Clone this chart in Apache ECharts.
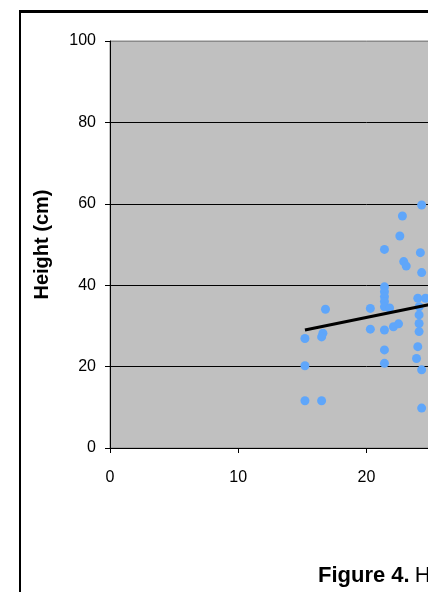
<!DOCTYPE html>
<html>
<head>
<meta charset="utf-8">
<script src="https://cdn.jsdelivr.net/npm/echarts@6/dist/echarts.min.js"></script>
<style>
html,body{margin:0;padding:0;background:#fff;overflow:hidden;}
#clip{position:absolute;left:0;top:0;width:428px;height:592px;overflow:hidden;background:#fff;}
#chart{position:absolute;left:0;top:0;width:800px;height:700px;}
#frame{position:absolute;left:19px;top:10px;width:1000px;height:1000px;border-left:2px solid #000;border-top:3px solid #000;pointer-events:none;}
</style>
</head>
<body>
<div id="clip">
  <div id="chart"></div>
  <div id="frame"></div>
</div>
<script>
// Observed values (x, height cm)
const xValues = [15.2, 15.2, 15.2, 16.5, 16.6, 16.5, 16.8, 20.3, 20.3, 21.4, 21.4, 21.4, 21.4, 21.4, 21.4, 21.8, 21.4, 22.1, 22.5, 21.4, 21.4, 22.6, 22.8, 22.9, 23.1, 24.3, 24.2, 24.3, 24.0, 24.6, 24.1, 24.1, 24.1, 24.1, 24.0, 23.9, 24.3, 24.3];
const heights = [26.9, 20.2, 11.6, 11.6, 28.2, 27.3, 34.1, 34.3, 29.2, 48.8, 39.6, 38.4, 37.2, 36.0, 34.7, 34.4, 29.0, 29.8, 30.5, 24.1, 20.8, 52.1, 57.0, 45.8, 44.7, 59.7, 48.0, 43.1, 36.8, 36.8, 34.7, 32.7, 30.6, 28.6, 24.9, 22.0, 19.2, 9.8];
// Linear trend line endpoints
const trendX = [15.2, 30];
const trendY = [29.0, 38.5];
const yTicks = [0, 20, 40, 60, 80, 100];
const xTicks = [0, 10, 20, 30, 40];
const yTitle = 'Height (cm)';
const figTitleBold = 'Figure 4.';
const figTitleRest = 'Height';

const points = xValues.map((x, i) => [x, heights[i]]);
const trend = trendX.map((x, i) => [x, trendY[i]]);

const chart = echarts.init(document.getElementById('chart'), null, {renderer: 'canvas'});
const font = '"Liberation Sans", Arial, sans-serif';
chart.setOption({
  animation: false,
  backgroundColor: 'transparent',
  title: {
    text: '{b|' + figTitleBold + '} {n|' + figTitleRest + '}',
    left: 313, top: 560,
    textStyle: {
      rich: {
        b: {fontFamily: font, fontSize: 22, fontWeight: 'bold', color: '#000'},
        n: {fontFamily: font, fontSize: 22, fontWeight: 'normal', color: '#000'}
      }
    }
  },
  grid: {left: 110, top: 41, width: 513, height: 407, show: true, backgroundColor: '#C0C0C0', borderColor: '#8a8a8a', borderWidth: 1},
  xAxis: {
    type: 'value', min: xTicks[0], max: xTicks[xTicks.length - 1], interval: 10,
    axisLine: {show: true, onZero: false, lineStyle: {color: '#000', width: 1}},
    axisTick: {show: true, inside: false, length: 5, lineStyle: {color: '#000'}},
    axisLabel: {margin: 22, fontFamily: font, fontSize: 16, color: '#000'},
    splitLine: {show: false}
  },
  yAxis: {
    type: 'value', min: yTicks[0], max: yTicks[yTicks.length - 1], interval: 20,
    name: yTitle, nameLocation: 'middle', nameRotate: 90, nameGap: 58,
    nameTextStyle: {fontFamily: font, fontSize: 20, fontWeight: 'bold', color: '#000'},
    axisLine: {show: true, lineStyle: {color: '#000', width: 1}},
    axisTick: {show: true, inside: false, length: 5, lineStyle: {color: '#000'}},
    axisLabel: {margin: 14, fontFamily: font, fontSize: 16, color: '#000'},
    splitLine: {show: true, lineStyle: {color: ['#000', '#000', '#000', '#000', '#000', '#8a8a8a'], width: 1}}
  },
  series: [
    {
      type: 'scatter', data: points, symbol: 'circle', symbolSize: 9,
      itemStyle: {color: '#5FA6FA', opacity: 1}, z: 3
    },
    {
      type: 'line', data: trend, symbol: 'none', z: 4,
      lineStyle: {color: '#000', width: 3}
    }
  ]
});
</script>
</body>
</html>
